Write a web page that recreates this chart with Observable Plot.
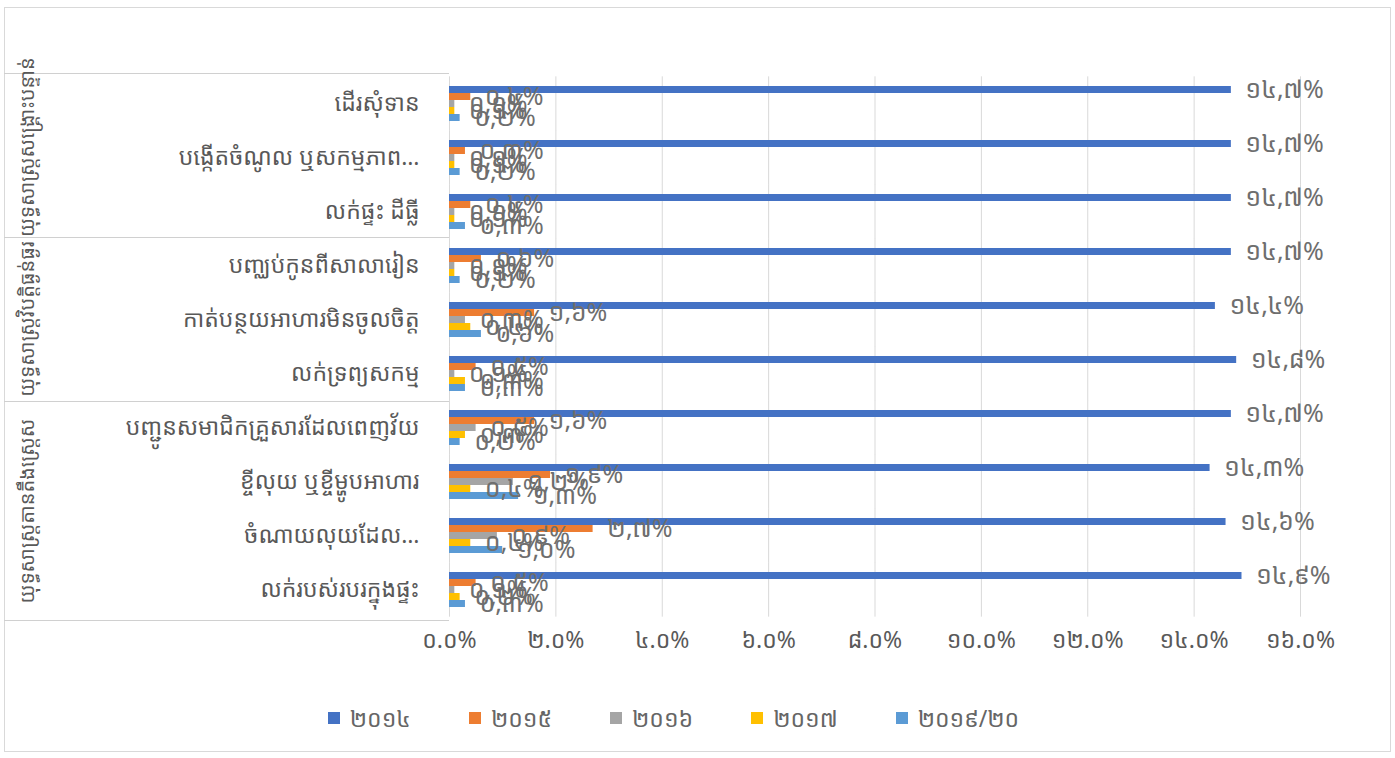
<!DOCTYPE html>
<html>
<head>
<meta charset="utf-8">
<script src="https://cdn.jsdelivr.net/npm/d3@7"></script>
<script src="https://cdn.jsdelivr.net/npm/@observablehq/plot@0.6"></script>
<style>
  body { margin: 0; background: #fff; }
  #wrap { position: relative; width: 1395px; height: 758px; overflow: hidden;
    font-family: "Noto Sans Khmer", "Khmer OS System", "Khmer OS", "Noto Sans", sans-serif; color: #595959; }
  #chart { position: absolute; left: 0; top: 0; }
  .frame { position: absolute; left: 4px; top: 7px; width: 1387px; height: 745px; border: 1px solid #d9d9d9; box-sizing: border-box; }
  .hline { position: absolute; height: 0; border-top: 1px solid #d0d0d0; }
  .glabel { position: absolute; text-align: center; font-size: 20px; line-height: 24px; white-space: nowrap;
    transform: rotate(-90deg); transform-origin: 50% 50%; color: #595959; }
  #legend { position: absolute; left: 0; top: 703px; width: 1395px; height: 30px; display: flex;
    justify-content: center; align-items: center; font-size: 23px; color: #666; padding-left: 10px; box-sizing: border-box; }
  .item { display: flex; align-items: center; margin: 0 58px 0 0; }
  .sw { width: 12px; height: 12px; margin-right: 10px; }
</style>
</head>
<body>
<div id="wrap"><div class="frame"></div><div id="chart"></div><div id="legend"></div></div>
<script>
// ---- data ----
const categories = [
  "ដើរសុំទាន",
  "បង្កើតចំណូល ឬសកម្មភាព…",
  "លក់ផ្ទះ ដីធ្លី",
  "បញ្ឈប់កូនពីសាលារៀន",
  "កាត់បន្ថយអាហារមិនចូលចិត្ត",
  "លក់ទ្រព្យសកម្ម",
  "បញ្ជូនសមាជិកគ្រួសារដែលពេញវ័យ",
  "ខ្ចីលុយ ឬខ្ចីម្ហូបអាហារ",
  "ចំណាយលុយដែល…",
  "លក់របស់របរក្នុងផ្ទះ"
];
const groups = [
  "យុទ្ធសាស្ត្រសង្គ្រោះបន្ទាន់",
  "យុទ្ធសាស្ត្រវិបត្តិធ្ងន់ធ្ងរ",
  "យុទ្ធសាស្ត្រតានតឹងស្ត្រេស"
];
const groupSizes = [3, 3, 4];
const series = ["២០១៤", "២០១៥", "២០១៦", "២០១៧", "២០១៩/២០"];
const colors = ["#4472C4", "#ED7D31", "#A5A5A5", "#FFC000", "#5B9BD5"];
const v2014 = [14.7, 14.7, 14.7, 14.7, 14.4, 14.8, 14.7, 14.3, 14.6, 14.9];
const v2015 = [0.4, 0.3, 0.4, 0.6, 1.6, 0.5, 1.6, 1.9, 2.7, 0.5];
const v2016 = [0.1, 0.1, 0.1, 0.1, 0.3, 0.1, 0.5, 1.2, 0.9, 0.1];
const v2017 = [0.1, 0.1, 0.1, 0.1, 0.4, 0.3, 0.3, 0.4, 0.4, 0.2];
const v2019 = [0.2, 0.2, 0.3, 0.2, 0.6, 0.3, 0.2, 1.3, 1.0, 0.3];
const xTicks = [0, 2, 4, 6, 8, 10, 12, 14, 16];

// ---- helpers ----
const kd = "០១២៣៤៥៦៧៨៩";
const toKhmer = s => s.replace(/[0-9]/g, d => kd[+d]);
const fmtAxis = d => toKhmer(d.toFixed(1)) + "%";
const fmtVal = d => toKhmer(d.toFixed(1).replace(".", ",")) + "%";

const valuesBySeries = [v2014, v2015, v2016, v2017, v2019];
const rows = [];
categories.forEach((c, i) => series.forEach((s, j) => rows.push({category: c, series: s, value: valuesBySeries[j][i]})));

// ---- layout ----
const W = 1395, H = 690, mTop = 73, mBottom = 70, mLeft = 449, mRight = 95;
const pInner = 0.28, pOuter = 0.14;
const plotH = H - mTop - mBottom;
const step = plotH / (categories.length - pInner + 2 * pOuter);
const gap = step * pInner;
const font = '"Noto Sans Khmer", "Khmer OS System", "Khmer OS", "Noto Sans", sans-serif';

const chart = Plot.plot({
  width: W, height: H,
  marginTop: mTop, marginBottom: mBottom, marginLeft: mLeft, marginRight: mRight,
  style: {fontFamily: font, fontSize: "23px", color: "#595959", background: "transparent"},
  x: {domain: [0, 16], ticks: xTicks, tickFormat: fmtAxis, label: null, tickSize: 0, tickPadding: 22},
  y: {domain: series, padding: 0, axis: null},
  fy: {domain: categories, paddingInner: pInner, paddingOuter: pOuter, label: null, tickSize: 0, tickPadding: 30, axis: "left"},
  color: {domain: series, range: colors},
  marks: [
    Plot.ruleX(xTicks, {stroke: "#d9d9d9", strokeWidth: 1, insetTop: -gap / 2, insetBottom: -gap / 2}),
    Plot.barX(rows, {fy: "category", y: "series", x: "value", fill: "series"}),
    Plot.text(rows, {fy: "category", y: "series", x: "value", text: d => fmtVal(d.value),
      textAnchor: "start", dx: 14, fill: "#6e6e6e", fontSize: 25})
  ]
});
document.getElementById("chart").appendChild(chart);

// ---- category table overlay ----
const wrap = document.getElementById("wrap");
let k = 0;
const bounds = [0];
groupSizes.forEach(n => { k += n; bounds.push(k); });
bounds.forEach(b => {
  const y = mTop + b * step;
  const l = document.createElement("div");
  l.className = "hline";
  l.style.left = "4px"; l.style.top = y + "px"; l.style.width = (mLeft - 4) + "px";
  wrap.appendChild(l);
});
groups.forEach((g, i) => {
  const y0 = mTop + bounds[i] * step, y1 = mTop + bounds[i + 1] * step;
  const h = y1 - y0, cy = (y0 + y1) / 2, cx = 27;
  const d = document.createElement("div");
  d.className = "glabel";
  d.textContent = g;
  d.style.width = h + "px";
  d.style.left = (cx - h / 2) + "px";
  d.style.top = (cy - 12) + "px";
  wrap.appendChild(d);
});

// ---- legend ----
const legend = document.getElementById("legend");
series.forEach((s, i) => {
  const it = document.createElement("div");
  it.className = "item";
  it.innerHTML = `<div class="sw" style="background:${colors[i]}"></div><span>${s}</span>`;
  legend.appendChild(it);
});
</script>
</body>
</html>
